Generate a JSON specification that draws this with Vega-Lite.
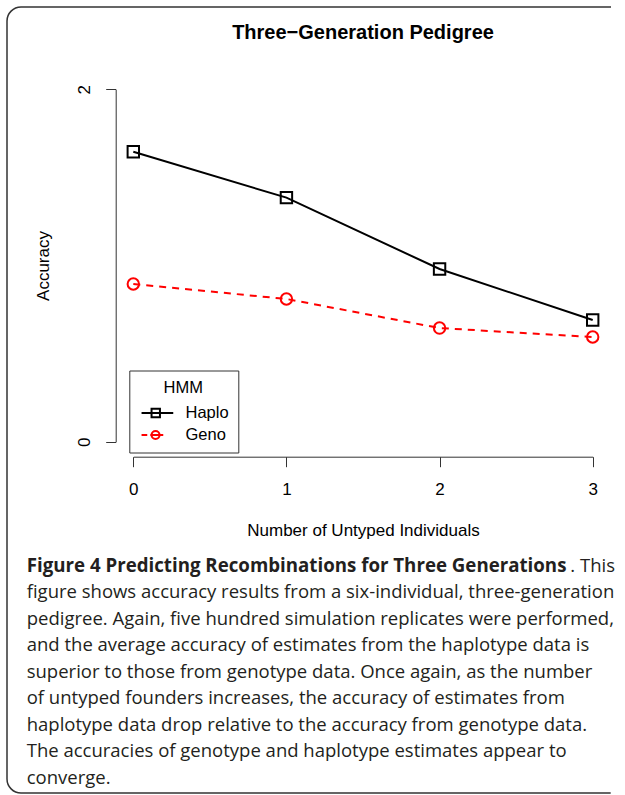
{
  "$schema": "https://vega.github.io/schema/vega-lite/v6.json",
  "width": 618,
  "height": 786,
  "autosize": {"type": "none"},
  "padding": {"left": 7, "top": 7, "right": 0, "bottom": 2},
  "background": "white",
  "config": {
    "view": {"stroke": "#333333", "strokeWidth": 1.5, "cornerRadius": 14, "strokeDash": [590, 802, 1400]},
    "font": "Liberation Sans",
    "axis": {"grid": false, "domainColor": "#333333", "tickColor": "#333333", "labelColor": "black", "titleColor": "black", "labelFont": "Liberation Sans", "titleFont": "Liberation Sans", "titleFontWeight": "normal"}
  },
  "title": {
    "text": "Three−Generation Pedigree",
    "font": "Liberation Sans",
    "fontSize": 20,
    "fontWeight": "bold",
    "color": "black",
    "anchor": "middle",
    "frame": "group",
    "dx": 47,
    "offset": -52,
    "baseline": "alphabetic"
  },
  "datasets": {
    "accuracy": [
      {"untyped": 0, "model": "Haplo", "accuracy": 1.646},
      {"untyped": 1, "model": "Haplo", "accuracy": 1.385},
      {"untyped": 2, "model": "Haplo", "accuracy": 0.980},
      {"untyped": 3, "model": "Haplo", "accuracy": 0.691},
      {"untyped": 0, "model": "Geno", "accuracy": 0.895},
      {"untyped": 1, "model": "Geno", "accuracy": 0.810},
      {"untyped": 2, "model": "Geno", "accuracy": 0.645},
      {"untyped": 3, "model": "Geno", "accuracy": 0.594}
    ],
    "caption": [
      {"line": 0, "segment": 1, "text": "Figure 4 Predicting Recombinations for Three Generations"},
      {"line": 0, "segment": 2, "text": ". This"},
      {"line": 1, "segment": 1, "text": "figure shows accuracy results from a six-individual, three-generation"},
      {"line": 2, "segment": 1, "text": "pedigree. Again, five hundred simulation replicates were performed,"},
      {"line": 3, "segment": 1, "text": "and the average accuracy of estimates from the haplotype data is"},
      {"line": 4, "segment": 1, "text": "superior to those from genotype data. Once again, as the number"},
      {"line": 5, "segment": 1, "text": "of untyped founders increases, the accuracy of estimates from"},
      {"line": 6, "segment": 1, "text": "haplotype data drop relative to the accuracy from genotype data."},
      {"line": 7, "segment": 1, "text": "The accuracies of genotype and haplotype estimates appear to"},
      {"line": 8, "segment": 1, "text": "converge."}
    ]
  },
  "layer": [
    {
      "data": {"name": "accuracy"},
      "encoding": {
        "x": {
          "field": "untyped", "type": "quantitative",
          "scale": {"domain": [0, 3], "range": [126.3, 585.7]},
          "axis": {
            "title": "Number of Untyped Individuals",
            "values": [0, 1, 2, 3],
            "format": "d",
            "offset": -336.3,
            "tickSize": 10,
            "labelFontSize": 17,
            "labelPadding": 15,
            "titleFontSize": 17,
            "titlePadding": 25,
            "labelFlush": false
          }
        },
        "y": {
          "field": "accuracy", "type": "quantitative",
          "scale": {"domain": [0, 2], "range": [434.7, 82.3]},
          "axis": {
            "title": "Accuracy",
            "values": [0, 1, 2],
            "format": "d",
            "offset": -108.7,
            "tickSize": 10,
            "labelFontSize": 17,
            "labelAngle": 270,
            "labelAlign": "center",
            "labelBaseline": "bottom",
            "labelPadding": 12,
            "titleFontSize": 17,
            "titlePadding": 23,
            "labelFlush": false
          }
        }
      },
      "layer": [
        {
          "transform": [{"filter": "datum.model === 'Haplo'"}],
          "mark": {"type": "line", "strokeWidth": 2, "color": "black"}
        },
        {
          "transform": [{"filter": "datum.model === 'Geno'"}],
          "mark": {"type": "line", "strokeWidth": 2, "color": "red", "strokeDash": [7, 6]}
        },
        {
          "transform": [{"filter": "datum.model === 'Haplo'"}],
          "mark": {"type": "point", "shape": "square", "filled": false, "size": 130, "strokeWidth": 2, "opacity": 1, "color": "black"}
        },
        {
          "transform": [{"filter": "datum.model === 'Geno'"}],
          "mark": {"type": "point", "shape": "circle", "filled": false, "size": 130, "strokeWidth": 2, "opacity": 1, "color": "red"}
        },
        {
          "transform": [{"filter": "false"}],
          "mark": {"type": "point", "filled": false, "strokeWidth": 2, "opacity": 1},
          "encoding": {
            "color": {
              "field": "model", "type": "nominal",
              "scale": {"domain": ["Haplo", "Geno"], "range": ["black", "red"]},
              "legend": {
                "title": "HMM",
                "orient": "none",
                "legendX": 122.3,
                "legendY": 363.5,
                "direction": "vertical",
                "strokeColor": "#333333",
                "fillColor": "white",
                "padding": 9,
                "titleAnchor": "middle",
                "titleFontSize": 16.5,
                "titleFontWeight": "normal",
                "titleColor": "black",
                "titlePadding": 8.75,
                "labelFontSize": 16.5,
                "labelColor": "black",
                "labelOffset": 30.7,
                "rowPadding": 5,
                "symbolSize": 100,
                "symbolStrokeWidth": 2,
                "symbolOpacity": 1,
                "symbolFillColor": "transparent"
              }
            },
            "shape": {
              "field": "model", "type": "nominal",
              "scale": {
                "domain": ["Haplo", "Geno"],
                "range": [
                  "M-1,0H5.34M1,-0.84H2.68V0.84H1Z",
                  "M-1,0H0.14M0.74,0H3.34M2.6,0A0.8,0.8,0,1,1,1,0A0.8,0.8,0,1,1,2.6,0Z"
                ]
              },
              "legend": {
                "title": "HMM",
                "orient": "none",
                "legendX": 122.3,
                "legendY": 363.5,
                "direction": "vertical",
                "strokeColor": "#333333",
                "fillColor": "white",
                "padding": 9,
                "titleAnchor": "middle",
                "titleFontSize": 16.5,
                "titleFontWeight": "normal",
                "titleColor": "black",
                "titlePadding": 8.75,
                "labelFontSize": 16.5,
                "labelColor": "black",
                "labelOffset": 30.7,
                "rowPadding": 5,
                "symbolSize": 100,
                "symbolStrokeWidth": 2,
                "symbolOpacity": 1,
                "symbolFillColor": "transparent"
              }
            }
          }
        }
      ]
    },
    {
      "data": {"name": "caption"},
      "encoding": {
        "y": {
          "field": "line", "type": "quantitative",
          "scale": {"domain": [0, 8], "range": [564.7, 776.7]},
          "axis": null
        },
        "text": {"field": "text", "type": "nominal"}
      },
      "layer": [
        {
          "transform": [{"filter": "datum.line === 0 && datum.segment === 1"}],
          "mark": {"type": "text", "align": "left", "baseline": "alphabetic", "font": "Open Sans", "fontSize": 18.7, "fontWeight": "bold", "color": "#231f20"},
          "encoding": {"x": {"datum": 0, "type": "quantitative", "scale": {"domain": [0, 1], "range": [19.7, 608]}, "axis": null}}
        },
        {
          "transform": [{"filter": "datum.segment === 2"}],
          "mark": {"type": "text", "align": "right", "baseline": "alphabetic", "font": "Open Sans", "fontSize": 18.5, "color": "#231f20"},
          "encoding": {"x": {"datum": 1, "type": "quantitative", "scale": {"domain": [0, 1], "range": [19.7, 608]}, "axis": null}}
        },
        {
          "transform": [{"filter": "datum.line > 0"}],
          "mark": {"type": "text", "align": "left", "baseline": "alphabetic", "font": "Open Sans", "fontSize": 18.5, "color": "#231f20"},
          "encoding": {"x": {"datum": 0, "type": "quantitative", "scale": {"domain": [0, 1], "range": [19.7, 608]}, "axis": null}}
        }
      ]
    }
  ],
  "resolve": {"scale": {"x": "independent", "y": "independent"}}
}
